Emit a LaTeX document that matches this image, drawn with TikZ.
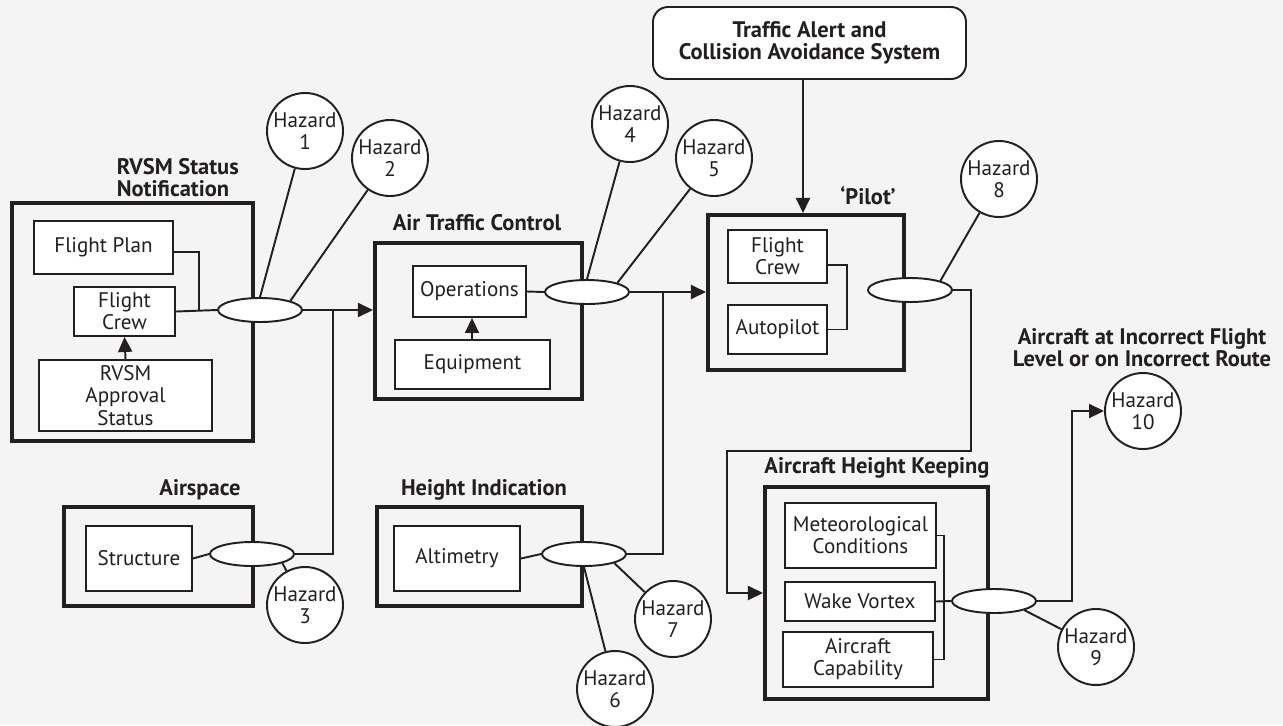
\documentclass[tikz,border=0pt]{standalone}
\usepackage{fontspec}
\setmainfont{PT Sans}
\usetikzlibrary{%
  arrows.meta,%
  shapes.geometric,% ellipse
  positioning,%
  calc%
}
\newlength\px
\setlength\px{0.2mm}
\definecolor{ink}{RGB}{35,31,32}
\definecolor{paper}{RGB}{244,244,244}

\begin{document}
\begin{tikzpicture}[
  x=0.2mm, y=-0.2mm,
  color=ink,
  font=\fontsize{12}{12.6}\selectfont,
  >={Triangle[length=3mm,width=2.8mm]},
  line width=1.1pt,
  wh/.style 2 args={minimum width=#1\px, minimum height=#2\px},
  group/.style={rectangle, draw, line width=2.3pt, inner sep=0pt},
  item/.style={rectangle, draw, fill=white, line width=1.1pt, inner sep=0pt, align=center},
  hub/.style={ellipse, draw, fill=white, line width=1.1pt, inner sep=0pt, minimum width=84\px, minimum height=24\px},
  hazard/.style={circle, draw, fill=white, line width=1.1pt, inner sep=0pt, minimum size=76\px, align=center},
  heading/.style={font=\fontsize{12.8}{12.6}\selectfont\bfseries, align=center}
]

\fill[paper] (0,0) rectangle (1283,725);
\useasboundingbox (0,0) rectangle (1283,725);

% outer boxes
\node[group, wh={241}{238}] (rvsmbox) at (132.5,322) {};
\node[group, wh={207}{156}] (atcbox) at (478.5,321) {};
\node[group, wh={189}{99}] (airbox) at (158.5,556.5) {};
\node[group, wh={205}{99}] (hgtbox) at (479.5,556.5) {};
\node[group, wh={196}{155}] (pilotbox) at (806,292.5) {};
\node[group, wh={223}{212}] (ahkbox) at (876.5,593) {};

% titles
\node[heading, align=left, anchor=west] (rvsmtitle) at (110,178) {RVSM Status\\Notification};
\node[heading] (atctitle) at (477,223) {Air Traffic Control};
\node[heading] (airtitle) at (200,490) {Airspace};
\node[heading] (hgttitle) at (484,490) {Height Indication};
\node[heading] (pilottitle) at (868,196) {‘Pilot’};
\node[heading] (ahktitle) at (877,468) {Aircraft Height Keeping};
\node[heading] (outtitle) at (1142,348) {Aircraft at Incorrect Flight\\Level or on Incorrect Route};

\node[item, heading, wh={313}{72}, rounded corners=3mm] (tcas) at (809.5,43) {Traffic Alert and\\Collision Avoidance System};

% contents
\node[item, wh={139}{53}] (fplan) at (103.5,247.5) {Flight Plan};
\node[item, wh={101}{49}] (fcrew) at (124.5,311.5) {Flight\\Crew};
\node[item, wh={173}{71}] (rvsmappr) at (125.5,395.5) {RVSM\\Approval\\Status};
\node[item, wh={113}{51}] (ops) at (469.5,291.5) {Operations};
\node[item, wh={155}{49}] (equip) at (472.5,364.5) {Equipment};
\node[item, wh={106}{65}] (struct) at (139,558.5) {Structure};
\node[item, wh={126}{65}] (alt) at (457,558.5) {Altimetry};
\node[item, wh={99}{53}] (pcrew) at (777.5,256.5) {Flight\\Crew};
\node[item, wh={99}{49}] (apilot) at (777.5,329.5) {Autopilot};
\node[item, wh={151}{65}] (met) at (860.5,535.5) {Meteorological\\Conditions};
\node[item, wh={150}{39}] (wake) at (860,601.5) {Wake Vortex};
\node[item, wh={150}{55}] (acap) at (858,659.5) {Aircraft\\Capability};

% links inside boxes
\draw ([yshift=-0.9mm]fplan.east) -| (199,310);
\draw[->] (rvsmappr.north) -- (fcrew.south);
\draw[->] (equip.north -| 472,0) -- (ops.south -| 472,0);
\draw ([yshift=-1.7mm]pcrew.east) -- ++(19,0) |- (apilot.east);
\draw (met.east) -- ++(7,0) |- (acap.east);

% hubs
\node[hub] (e1) at (260,310) {};
\node[hub] (e2) at (587,292) {};
\node[hub] (e3) at (252,554) {};
\node[hub] (e4) at (584,554) {};
\node[hub] (e5) at (910,290) {};
\node[hub] (e6) at (994,601) {};

\draw (fcrew.east) -- (e1.west);
\draw (ops.east) -- (e2.west);
\draw (struct.east) -- (e3.west);
\draw (alt.east) -- (e4.west);
\draw (wake.east) -- (e6.west);

% flows between boxes
\coordinate (j1) at (333,310);
\coordinate (j2) at (663,292);
\coordinate (r1) at (971,451);
\coordinate (r2) at (727,451);
\draw[->] (e1.east) -- (e1.east -| atcbox.west);
\draw (e3.east) -| (j1);
\draw[->] (e2.east) -- (e2.east -| pilotbox.west);
\draw (e4.east) -| (j2);
\draw[->] (tcas.south -| 803,0) -- (pilotbox.north -| 803,0);
\draw[->] (e5.east) -| (r1) -- (r2) |- (ahkbox.west);

% hazards
\node[hazard] (h1) at (305,131) {Hazard\\1};
\node[hazard] (h2) at (390,158) {Hazard\\2};
\node[hazard] (h3) at (305,605) {Hazard\\3};
\node[hazard] (h4) at (630,124) {Hazard\\4};
\node[hazard] (h5) at (714,158) {Hazard\\5};
\node[hazard] (h6) at (615,689) {Hazard\\6};
\node[hazard] (h7) at (673,619) {Hazard\\7};
\node[hazard] (h8) at (999,179) {Hazard\\8};
\node[hazard] (h9) at (1096,647) {Hazard\\9};
\node[hazard] (h10) at (1143,411) {Hazard\\10};

\draw (e1.north) -- (h1);
\draw (e1.north east) -- (h2);
\draw (e3.south east) -- (h3);
\draw (e2.north) -- (h4);
\draw (e2.north east) -- (h5);
\draw (e4.south) -- (h6);
\draw (e4.south east) -- (h7);
\draw (e5.north east) -- (h8);
\draw (e6.south east) -- (h9);
\draw[->] (e6.east) -- ++(35,0) |- (h10.west);

\end{tikzpicture}
\end{document}
